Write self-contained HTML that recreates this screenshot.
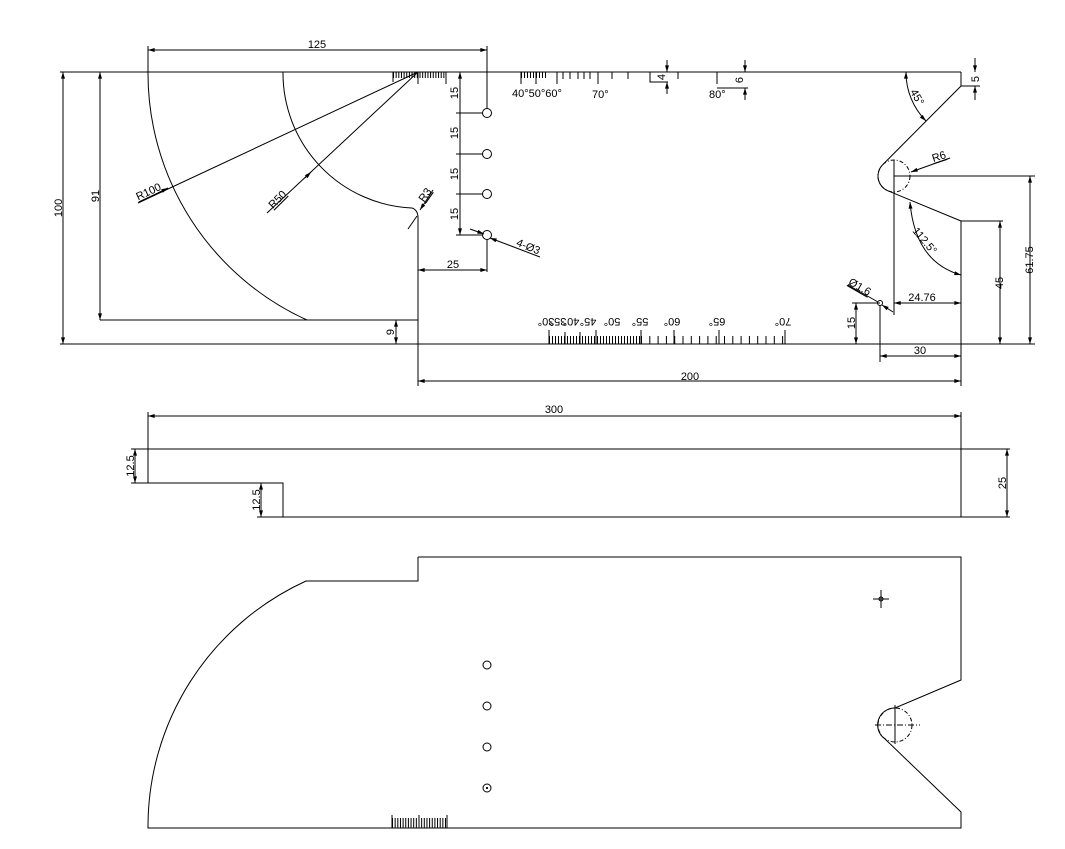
<!DOCTYPE html>
<html><head><meta charset="utf-8"><style>
html,body{margin:0;padding:0;background:#fff}
svg{display:block}
text{font-family:"Liberation Sans",sans-serif;font-size:11px;fill:#000}
</style></head><body>
<svg width="1065" height="849" viewBox="0 0 1065 849" xmlns="http://www.w3.org/2000/svg">
<defs>
<marker id="a" viewBox="0 0 10 6" refX="10" refY="3" markerWidth="8" markerHeight="4" orient="auto-start-reverse" markerUnits="userSpaceOnUse"><path d="M0,0 L10,3 L0,6z" fill="#000"/></marker>
</defs>
<g stroke="#000" stroke-width="1" fill="none">
<line x1="60" y1="72" x2="961" y2="72"/>
<line x1="60" y1="344" x2="961" y2="344"/>
<line x1="100" y1="320" x2="418" y2="320"/>
<path d="M148,72 A271,271 0 0 0 307,320"/>
<path d="M283,72 A135,135 0 0 0 412,208 Q418,210 418,218 L418,344"/>
<path d="M961,72 L961,86 L882.7,164.7 A16,16 0 0 0 887.9,190.8 L961,221 L961,344"/>
<circle cx="894" cy="176" r="16" stroke-dasharray="4 2 1 2"/>
<line x1="894" y1="160" x2="894" y2="315"/>
<line x1="894" y1="176" x2="1035" y2="176"/>
<line x1="393" y1="75" x2="446" y2="75" stroke-width="6" stroke-dasharray="1 1.65"/>
<path d="M393,72v10M418,72v12M446,72v12"/>
<line x1="521" y1="75" x2="546" y2="75" stroke-width="6" stroke-dasharray="1 2"/>
<path d="M521,72v12M536,72v12M557,72v12M563,72v7M570,72v7M578,72v7M584,72v7M590,72v7M598,72v12M612,72v7M628,72v7M650,72v10M678,72v7M717,72v12"/>
<line x1="549" y1="340" x2="640" y2="340" stroke-width="8" stroke-dasharray="1 2"/>
<line x1="641" y1="340" x2="786" y2="340" stroke-width="8" stroke-dasharray="1 7.3"/>
<path d="M549,344v-14M565,344v-12M580,344v-12M596,344v-14M641,344v-14M674,344v-14M719,344v-14M785,344v-14"/>
<circle cx="487" cy="113" r="4.5"/><circle cx="487" cy="154" r="4.5"/><circle cx="487" cy="194" r="4.5"/><circle cx="487" cy="235" r="4.5"/>
<line x1="148" y1="50" x2="487" y2="50" marker-start="url(#a)" marker-end="url(#a)"/>
<line x1="148" y1="46" x2="148" y2="72"/>
<line x1="487" y1="46" x2="487" y2="108"/>
<line x1="63" y1="72" x2="63" y2="344" marker-start="url(#a)" marker-end="url(#a)"/>
<line x1="100" y1="72" x2="100" y2="320" marker-start="url(#a)" marker-end="url(#a)"/>
<line x1="396" y1="320" x2="396" y2="344" marker-start="url(#a)" marker-end="url(#a)"/>
<line x1="460" y1="72" x2="460" y2="235" marker-start="url(#a)" marker-end="url(#a)"/>
<path d="M456,113H483M456,154H483M456,194H483M456,235H483"/>
<line x1="487" y1="240" x2="487" y2="272"/>
<line x1="418" y1="270" x2="487" y2="270" marker-start="url(#a)" marker-end="url(#a)"/>
<line x1="470" y1="229" x2="484" y2="234" marker-end="url(#a)"/>
<line x1="540" y1="257" x2="490" y2="238" marker-end="url(#a)"/>
<line x1="418" y1="72" x2="138" y2="203"/>
<path d="M158,193 l10,-5" marker-end="url(#a)"/>
<line x1="418" y1="72" x2="267" y2="213"/>
<path d="M305,178 l6,-6" marker-end="url(#a)"/>
<path d="M408,229 L417,216" /><path d="M433,190 L420,210" marker-end="url(#a)"/>
<line x1="418" y1="344" x2="418" y2="386"/>
<line x1="418" y1="381" x2="961" y2="381" marker-start="url(#a)" marker-end="url(#a)"/>
<line x1="961" y1="344" x2="961" y2="386"/>
<line x1="961" y1="86" x2="980" y2="86"/>
<line x1="975" y1="58" x2="975" y2="72" marker-end="url(#a)"/>
<line x1="975" y1="100" x2="975" y2="86" marker-end="url(#a)"/>
<path d="M650,72V82H668"/>
<line x1="667" y1="60" x2="667" y2="72" marker-end="url(#a)"/>
<line x1="667" y1="94" x2="667" y2="82" marker-end="url(#a)"/>
<path d="M717,88H748"/>
<line x1="745" y1="60" x2="745" y2="72" marker-end="url(#a)"/>
<line x1="745" y1="100" x2="745" y2="88" marker-end="url(#a)"/>
<path d="M906,72 A69,69 0 0 0 926,121" marker-start="url(#a)" marker-end="url(#a)"/>
<path d="M950,158 L911,172" marker-end="url(#a)"/>
<path d="M910,202 Q915,262 961,275" marker-start="url(#a)" marker-end="url(#a)"/>
<line x1="961" y1="221" x2="1003" y2="221"/>
<line x1="1000" y1="221" x2="1000" y2="344" marker-start="url(#a)" marker-end="url(#a)"/>
<line x1="961" y1="344" x2="1035" y2="344"/>
<line x1="1030" y1="176" x2="1030" y2="344" marker-start="url(#a)" marker-end="url(#a)"/>
<line x1="852" y1="303" x2="880" y2="303"/>
<line x1="894" y1="303" x2="961" y2="303" marker-start="url(#a)" marker-end="url(#a)"/>
<circle cx="880" cy="303" r="2.5"/>
<line x1="848" y1="285" x2="878" y2="302"/><line x1="893" y1="312" x2="882" y2="305" marker-end="url(#a)"/>
<line x1="856" y1="303" x2="856" y2="344" marker-start="url(#a)" marker-end="url(#a)"/>
<line x1="880" y1="305" x2="880" y2="362"/>
<line x1="880" y1="356" x2="961" y2="356" marker-start="url(#a)" marker-end="url(#a)"/>
<path d="M148,449H961V517H283V483H148Z"/>
<line x1="148" y1="412" x2="148" y2="449"/>
<line x1="961" y1="412" x2="961" y2="449"/>
<line x1="148" y1="416" x2="961" y2="416" marker-start="url(#a)" marker-end="url(#a)"/>
<path d="M131,449H148M131,483H148M257,483H270M257,517H283"/>
<line x1="135" y1="449" x2="135" y2="483" marker-start="url(#a)" marker-end="url(#a)"/>
<line x1="261" y1="483" x2="261" y2="517" marker-start="url(#a)" marker-end="url(#a)"/>
<path d="M961,449H1010M961,517H1010"/>
<line x1="1007" y1="449" x2="1007" y2="517" marker-start="url(#a)" marker-end="url(#a)"/>
<path d="M418,557H961V680L895,708 A17,17 0 0 0 885,739 L961,812V828H148 A270,270 0 0 1 306,581H418V557"/>
<circle cx="895" cy="725" r="17" stroke-dasharray="4 2 1 2"/>
<line x1="875" y1="725" x2="920" y2="725" stroke-dasharray="6 2 1 2"/>
<line x1="895" y1="705" x2="895" y2="744"/>
<circle cx="487" cy="665" r="4"/><circle cx="487" cy="706" r="4"/><circle cx="487" cy="747" r="4"/><circle cx="487" cy="788" r="4"/>
<circle cx="487" cy="788" r="0.6" fill="#000"/>
<circle cx="881" cy="599" r="2"/>
<path d="M873,599H889M881,590V608"/>
<line x1="392" y1="823" x2="446" y2="823" stroke-width="10" stroke-dasharray="1 1.65"/>
<path d="M392,815V828M419,815V828M447,815V828"/>
</g>
<text x="317" y="48" text-anchor="middle">125</text>
<text transform="translate(62,208) rotate(-90)" text-anchor="middle">100</text>
<text transform="translate(99,196) rotate(-90)" text-anchor="middle">91</text>
<text transform="translate(394,332) rotate(-90)" text-anchor="middle">9</text>
<text transform="translate(458,93) rotate(-90)" text-anchor="middle">15</text>
<text transform="translate(458,133) rotate(-90)" text-anchor="middle">15</text>
<text transform="translate(458,174) rotate(-90)" text-anchor="middle">15</text>
<text transform="translate(458,214) rotate(-90)" text-anchor="middle">15</text>
<text x="453" y="268" text-anchor="middle">25</text>
<text transform="translate(527,250) rotate(22)" text-anchor="middle">4-Ø3</text>
<text transform="translate(150,195) rotate(-25)" text-anchor="middle" text-decoration="underline">R100</text>
<text transform="translate(280,202) rotate(-45)" text-anchor="middle" text-decoration="underline">R50</text>
<text transform="translate(428,197) rotate(-55)" text-anchor="middle" text-decoration="underline">R3</text>
<text x="690" y="380" text-anchor="middle">200</text>
<text x="512" y="97">40°50°60°</text>
<text x="592" y="98">70°</text>
<text x="709" y="98">80°</text>
<text transform="translate(665,77) rotate(-90)" text-anchor="middle">4</text>
<text transform="translate(743,80) rotate(-90)" text-anchor="middle">6</text>
<text transform="translate(979,79) rotate(-90)" text-anchor="middle">5</text>
<text transform="translate(914,99) rotate(60)" text-anchor="middle">45°</text>
<text transform="translate(940,160) rotate(-18)" text-anchor="middle" text-decoration="underline">R6</text>
<text transform="translate(922,243) rotate(50)" text-anchor="middle">112.5°</text>
<text transform="translate(1003,283) rotate(-90)" text-anchor="middle">45</text>
<text transform="translate(1033,260) rotate(-90)" text-anchor="middle">61.75</text>
<text x="922" y="301" text-anchor="middle">24.76</text>
<text transform="translate(858,290) rotate(30)" text-anchor="middle" text-decoration="underline">Ø1.6</text>
<text transform="translate(855,323) rotate(-90)" text-anchor="middle">15</text>
<text x="920" y="354" text-anchor="middle">30</text>
<g font-size="10">
<text transform="rotate(180 546 322)" x="546" y="326" text-anchor="middle">30°</text>
<text transform="rotate(180 558 322)" x="558" y="326" text-anchor="middle">35°</text>
<text transform="rotate(180 571 322)" x="571" y="326" text-anchor="middle">40°</text>
<text transform="rotate(180 588 322)" x="588" y="326" text-anchor="middle">45°</text>
<text transform="rotate(180 612 322)" x="612" y="326" text-anchor="middle">50°</text>
<text transform="rotate(180 640 322)" x="640" y="326" text-anchor="middle">55°</text>
<text transform="rotate(180 672 322)" x="672" y="326" text-anchor="middle">60°</text>
<text transform="rotate(180 717 322)" x="717" y="326" text-anchor="middle">65°</text>
<text transform="rotate(180 783 322)" x="783" y="326" text-anchor="middle">70°</text>
</g>
<text x="554" y="413" text-anchor="middle">300</text>
<text transform="translate(134,466) rotate(-90)" text-anchor="middle">12.5</text>
<text transform="translate(260,500) rotate(-90)" text-anchor="middle">12.5</text>
<text transform="translate(1006,483) rotate(-90)" text-anchor="middle">25</text>
</svg>
</body></html>
